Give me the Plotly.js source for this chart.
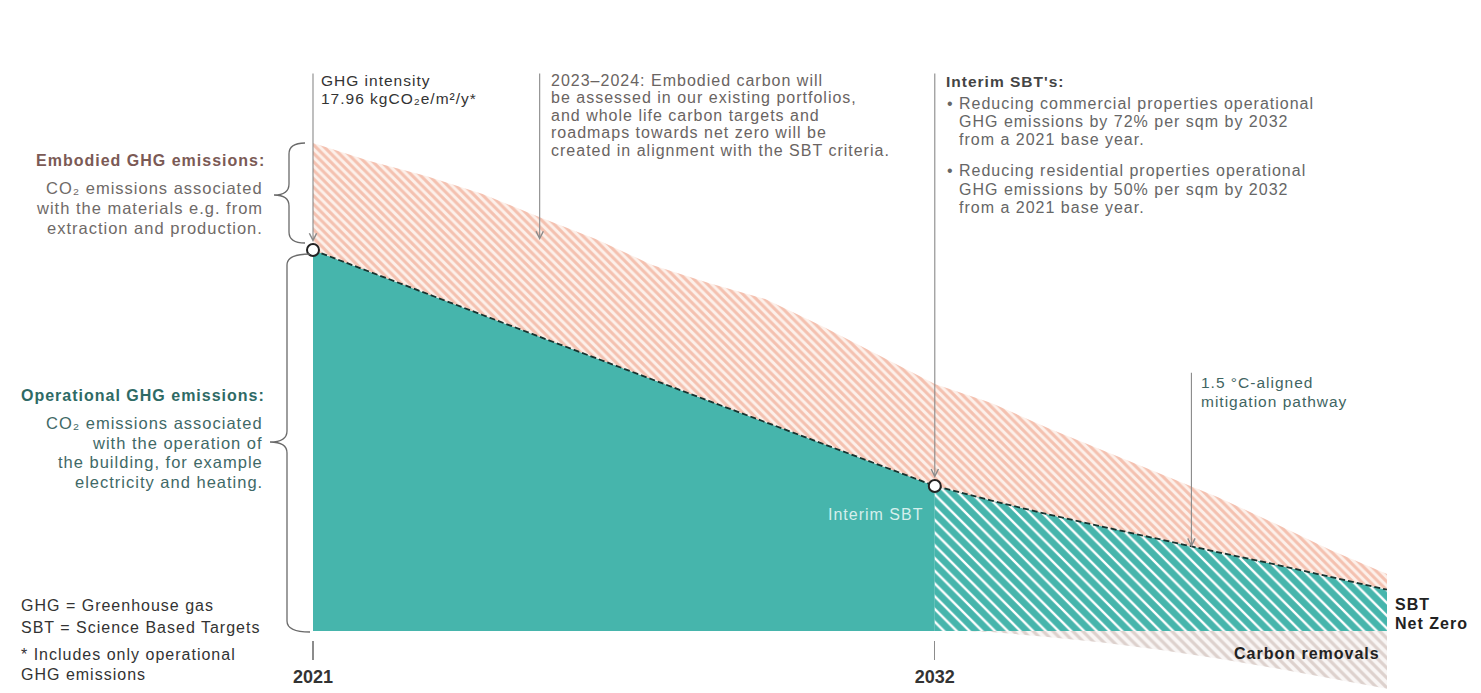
<!DOCTYPE html>
<html>
<head>
<meta charset="utf-8">
<script src="https://cdn.plot.ly/plotly-3.0.1.min.js"></script>
<style>
  html, body { margin: 0; padding: 0; background: #ffffff; }
  #chart { width: 1481px; height: 693px; }
  .annotation-text { letter-spacing: 1px; }
</style>
</head>
<body>
<div id="chart"></div>
<script>
// Emission pathway, kgCO2e/m2/y per year
const years = [2021, 2022, 2023, 2024, 2025, 2026, 2027, 2028, 2029, 2030,
               2031, 2032, 2033, 2034, 2035, 2036, 2037, 2038, 2039, 2040];
// operational GHG emissions (SBT pathway, dashed line)
const operational = [17.96, 16.95, 15.93, 14.90, 13.88, 12.86, 11.85, 10.85, 9.85, 8.84,
                     7.83, 6.84, 6.15, 5.50, 4.90, 4.30, 3.72, 3.15, 2.55, 1.95];
// operational + embodied emissions (top of the hatched band)
const embodiedTop = [23.01, 22.16, 21.45, 20.60, 19.52, 18.48, 17.26, 16.41, 15.65, 14.38,
                     13.01, 11.65, 10.75, 9.57, 8.49, 7.40, 6.32, 5.09, 3.82, 2.69];
// carbon removals below zero
const removalYears = [2032.5, 2033, 2034, 2035, 2036, 2037, 2038, 2039, 2040];
const removals = [0.0, -0.05, -0.28, -0.55, -0.9, -1.3, -1.75, -2.25, -2.72];
// year ticks
const tickYears = [2021, 2032];
const interimYear = 2032;

const baseYearIdx = years.indexOf(2021);
const interimIdx = years.indexOf(interimYear);

// page geometry (pixels) used for placing text and braces
const W = 1481, H = 693, ML = 313, MR = 94, MT = 0, MB = 0;
const plotW = W - ML - MR, plotH = H - MT - MB;
const px = x => (x - ML) / plotW;
const py = y => (H - MB - y) / plotH;

const TEAL = '#46b5ac';
const FONT = 'Liberation Sans, Arial, sans-serif';

const traces = [
  {
    x: years.slice(0, interimIdx + 1), y: operational.slice(0, interimIdx + 1),
    mode: 'lines', line: { width: 0 }, fill: 'tozeroy', fillcolor: TEAL,
    hoverinfo: 'skip', showlegend: false
  },
  {
    x: years.slice(interimIdx), y: operational.slice(interimIdx),
    mode: 'lines', line: { width: 0 }, fill: 'tozeroy', fillcolor: TEAL,
    fillpattern: { shape: '\\', bgcolor: TEAL, fgcolor: '#ffffff', size: 9, solidity: 0.26 },
    hoverinfo: 'skip', showlegend: false
  },
  {
    x: removalYears, y: removals,
    mode: 'lines', line: { width: 0 }, fill: 'tozeroy', fillcolor: '#f3eeec',
    fillpattern: { shape: '\\', bgcolor: '#f9f6f5', fgcolor: '#ddd1cd', size: 7, solidity: 0.45 },
    hoverinfo: 'skip', showlegend: false
  },
  {
    x: years, y: operational, mode: 'lines', line: { width: 0 },
    hoverinfo: 'skip', showlegend: false
  },
  {
    x: years, y: embodiedTop, mode: 'lines', line: { width: 0 },
    fill: 'tonexty', fillcolor: '#f8d9cd',
    fillpattern: { shape: '\\', bgcolor: '#fdf0ea', fgcolor: '#f4c1b0', size: 6, solidity: 0.5 },
    hoverinfo: 'skip', showlegend: false
  },
  {
    x: years, y: operational, mode: 'lines',
    line: { color: '#17332f', width: 1.8, dash: '6px,3px' },
    hoverinfo: 'skip', showlegend: false
  },
  {
    x: [years[baseYearIdx], years[interimIdx]],
    y: [operational[baseYearIdx], operational[interimIdx]],
    mode: 'markers', cliponaxis: false,
    marker: { size: 12, color: '#ffffff', line: { color: '#222222', width: 2 } },
    hoverinfo: 'skip', showlegend: false
  }
];

function txt(x, y, text, opt) {
  opt = opt || {};
  return {
    xref: 'paper', yref: 'paper', x: px(x), y: py(y),
    xanchor: opt.anchor || 'left', yanchor: 'middle', align: opt.anchor || 'left',
    showarrow: false, text: text, borderpad: 0,
    font: { family: FONT, size: opt.size || 16, color: opt.color || '#555555',
            weight: opt.bold ? 'bold' : 'normal' }
  };
}
function block(x, yStart, step, lines, opt) {
  return lines.map((l, i) => txt(x, yStart + i * step, l, opt));
}
function arrow(xv, yv, ay, standoff) {
  return {
    xref: 'x', yref: 'y', x: xv, y: yv, ax: 0, ay: ay, text: '',
    showarrow: true, arrowhead: 5, arrowsize: 1.3, arrowwidth: 1.1,
    arrowcolor: '#8a8a8a', standoff: standoff || 0
  };
}

const annotations = [].concat(
  // pointer lines
  arrow(years[baseYearIdx], operational[baseYearIdx], -178, 8),
  arrow(2025.01, 18.43, -168, 0),
  arrow(years[interimIdx], operational[interimIdx], -414, 8),
  arrow(2036.54, 3.95, -176, 0),

  block(320, 80, 18, ['GHG intensity', '17.96 kgCO₂e/m²/y*'], { size: 15.5, color: '#333333' }),
  block(550, 80, 17.6, ['2023–2024: Embodied carbon will',
                        'be assessed in our existing portfolios,',
                        'and whole life carbon targets and',
                        'roadmaps towards net zero will be',
                        'created in alignment with the SBT criteria.'], { color: '#6a6462' }),
  [txt(945, 82, "Interim SBT's:", { bold: true, size: 15.5, color: '#444444' })],
  [txt(946, 104, '•', { color: '#666666' }), txt(946, 171, '•', { color: '#666666' })],
  block(958, 104, 18, ['Reducing commercial properties operational',
                       'GHG emissions by 72% per sqm by 2032',
                       'from a 2021 base year.'], { color: '#666666' }),
  block(958, 171, 18, ['Reducing residential properties operational',
                       'GHG emissions by 50% per sqm by 2032',
                       'from a 2021 base year.'], { color: '#666666' }),
  block(1200, 382, 19, ['1.5 °C-aligned', 'mitigation pathway'], { size: 15.5, color: '#3f6562' }),

  [txt(266, 160, 'Embodied GHG emissions:', { anchor: 'right', bold: true, size: 16, color: '#7b5a55' })],
  block(264, 188, 20, ['CO₂ emissions associated',
                       'with the materials e.g. from',
                       'extraction and production.'], { anchor: 'right', size: 16.5, color: '#6f6a68' }),
  [txt(266, 395, 'Operational GHG emissions:', { anchor: 'right', bold: true, size: 16, color: '#2e6a65' })],
  block(264, 423, 19.6, ['CO₂ emissions associated',
                         'with the operation of',
                         'the building, for example',
                         'electricity and heating.'], { anchor: 'right', size: 16.5, color: '#3f6967' }),

  block(20, 605, 22, ['GHG = Greenhouse gas', 'SBT = Science Based Targets'], { size: 16, color: '#333333' }),
  block(20, 654, 20, ['* Includes only operational', 'GHG emissions'], { size: 16, color: '#333333' }),

  [txt(924, 514, 'Interim SBT', { anchor: 'right', color: '#d6efec' })],
  [txt(1394, 604, 'SBT', { bold: true, size: 16, color: '#222222' }),
   txt(1394, 623, 'Net Zero', { bold: true, size: 16, color: '#222222' }),
   txt(1381, 653, 'Carbon removals', { anchor: 'right', bold: true, size: 16, color: '#222222' })]
);

function bracePath(xEnd, xStem, xTip, yTop, yMid, yBot) {
  const r = 11;
  const P = (x, y) => px(x) + ',' + py(y);
  return 'M' + P(xEnd, yTop) +
    ' Q' + P(xStem, yTop) + ' ' + P(xStem, yTop + r) +
    ' L' + P(xStem, yMid - r) +
    ' Q' + P(xStem, yMid) + ' ' + P(xTip, yMid) +
    ' Q' + P(xStem, yMid) + ' ' + P(xStem, yMid + r) +
    ' L' + P(xStem, yBot - r) +
    ' Q' + P(xStem, yBot) + ' ' + P(xEnd, yBot);
}

const shapes = [
  { type: 'path', xref: 'paper', yref: 'paper', path: bracePath(305, 289, 274, 143, 195, 243),
    line: { color: '#6a6a6a', width: 1.3 } },
  { type: 'path', xref: 'paper', yref: 'paper', path: bracePath(310, 287, 270, 254, 442, 632),
    line: { color: '#6a6a6a', width: 1.3 } }
];

const layout = {
  width: W, height: H,
  margin: { l: ML, r: MR, t: MT, b: MB, pad: 0 },
  paper_bgcolor: '#ffffff', plot_bgcolor: '#ffffff',
  showlegend: false,
  xaxis: {
    range: [2021, 2040], showgrid: false, zeroline: false, showline: false,
    tickvals: tickYears, ticktext: tickYears.map(String),
    ticks: 'outside', ticklen: 19, tickcolor: '#8c8c8c', tickwidth: 1.2,
    ticklabelstandoff: 1,
    anchor: 'free', position: py(640), automargin: false,
    tickfont: { family: FONT, size: 18, color: '#333333', weight: 'bold' }
  },
  yaxis: {
    range: [-2.923, 29.75], visible: false, showgrid: false, zeroline: false, fixedrange: true
  },
  annotations: annotations,
  shapes: shapes
};

Plotly.newPlot('chart', traces, layout, { displayModeBar: false, staticPlot: true });
</script>
</body>
</html>
